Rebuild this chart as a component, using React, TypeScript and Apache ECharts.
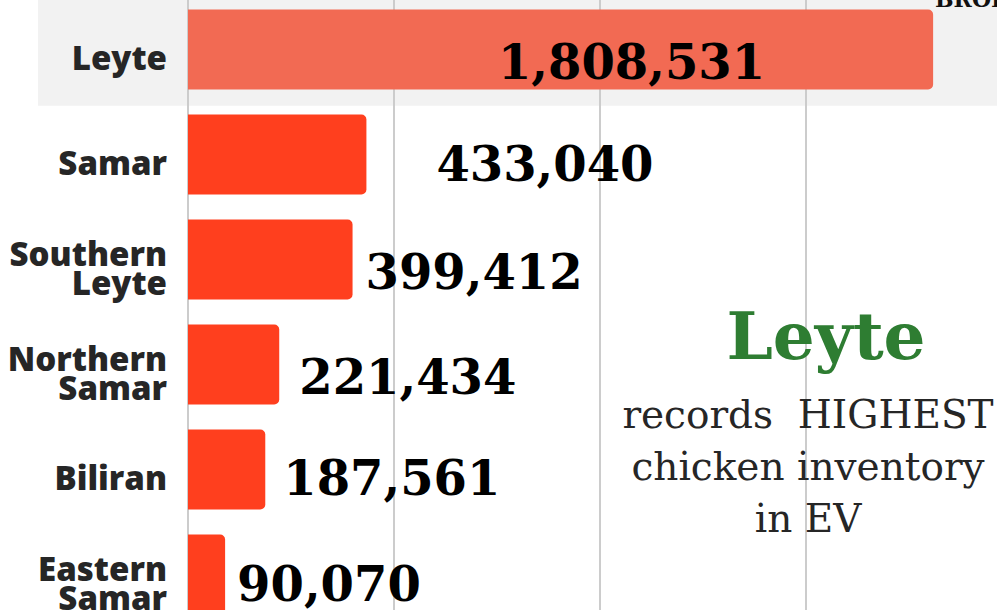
import React, { useEffect, useRef } from "react";
import * as echarts from "echarts";

const provinces = ["Leyte", "Samar", "Southern Leyte", "Northern Samar", "Biliran", "Eastern Samar"];
const inventory = [1808531, 433040, 399412, 221434, 187561, 90070];
const xTicks = [0, 500000, 1000000, 1500000, 2000000];
const highlight = "Leyte";
const noteLines = ["records  HIGHEST", "chicken inventory", "in EV"];
const topTitle = "BROILER";

// label placement styles per bar (not data)
const labelStyles = [
  { position: "inside", distance: 0, dx: 71, dy: 12 },
  { position: "right", distance: 70, dx: 0, dy: 9 },
  { position: "right", distance: 13, dx: 0, dy: 12 },
  { position: "right", distance: 20, dx: 0, dy: 12 },
  { position: "right", distance: 18, dx: 0, dy: 8 },
  { position: "right", distance: 12, dx: 0, dy: 9 },
];

const OFFSET_Y = 3; // container starts 3px above the viewport

export default function App() {
  const ref = useRef<HTMLDivElement>(null);
  useEffect(() => {
    const chart = echarts.init(ref.current!, null, { renderer: "svg" });
    const valueFont = {
      color: "#000",
      fontFamily: "DejaVu Serif",
      fontWeight: "bold" as const,
      fontSize: 48,
    };
    const catFont = {
      color: "#262626",
      fontFamily: "Open Sans",
      fontWeight: 800,
      fontSize: 33,
      lineHeight: 29,
      align: "right",
    };
    chart.setOption({
      animation: false,
      backgroundColor: "#fff",
      grid: { left: 188, right: 0, top: 0, bottom: 0, containLabel: false },
      xAxis: {
        type: "value",
        min: xTicks[0],
        max: xTicks[xTicks.length - 1],
        interval: xTicks[1] - xTicks[0],
        axisLabel: { show: false },
        axisLine: { show: false },
        axisTick: { show: false },
        splitLine: { show: true, lineStyle: { color: "#cccccc", width: 2 } },
      },
      yAxis: {
        type: "category",
        inverse: true,
        data: provinces,
        axisLine: { show: false },
        axisTick: { show: false },
        axisLabel: {
          margin: 21,
          ...catFont,
          formatter: (v: string) =>
            "{gap| }\n" + v.split(" ").map((w) => `{t|${w}}`).join("\n"),
          rich: {
            gap: { lineHeight: 16, fontSize: 10 },
            t: { ...catFont },
          },
        },
      },
      series: [
        {
          type: "bar",
          barWidth: 80,
          data: inventory.map((v, i) => {
            const s = labelStyles[i];
            return {
              value: v,
              itemStyle: {
                color: provinces[i] === highlight ? "#f26a53" : "#ff3f1e",
                borderRadius: [0, 5, 5, 0],
              },
              label: {
                show: true,
                position: s.position,
                distance: s.distance,
                offset: [s.dx, s.dy],
                formatter: (p: any) => Number(p.value).toLocaleString("en-US"),
                ...valueFont,
              },
            };
          }),
        },
      ],
      graphic: [
        {
          type: "rect",
          z: -1,
          shape: { x: 38, y: 0, width: 1000, height: 105.7 + OFFSET_Y },
          style: { fill: "#f2f2f2" },
        },
        {
          type: "text",
          x: 935,
          y: 10 + OFFSET_Y,
          style: {
            text: topTitle,
            fill: "#111",
            font: "bold 22px 'DejaVu Serif'",
            textAlign: "left",
            textVerticalAlign: "bottom",
          },
        },
        {
          type: "text",
          x: 826,
          y: 336 + OFFSET_Y,
          z: 10,
          style: {
            text: highlight,
            fill: "#2e7d32",
            font: "bold 66px 'DejaVu Serif'",
            textAlign: "center",
            textVerticalAlign: "middle",
          },
        },
        ...noteLines.map((t, i) => ({
          type: "text",
          x: 808,
          y: 414 + OFFSET_Y + i * 52,
          z: 10,
          style: {
            text: t,
            fill: "#262626",
            font: "39px 'DejaVu Serif'",
            textAlign: "center",
            textVerticalAlign: "middle",
          },
        })),
      ],
    });
    return () => chart.dispose();
  }, []);
  return (
    <div
      ref={ref}
      style={{ position: "fixed", left: 0, top: -OFFSET_Y, width: 1012, height: 630 }}
    />
  );
}
